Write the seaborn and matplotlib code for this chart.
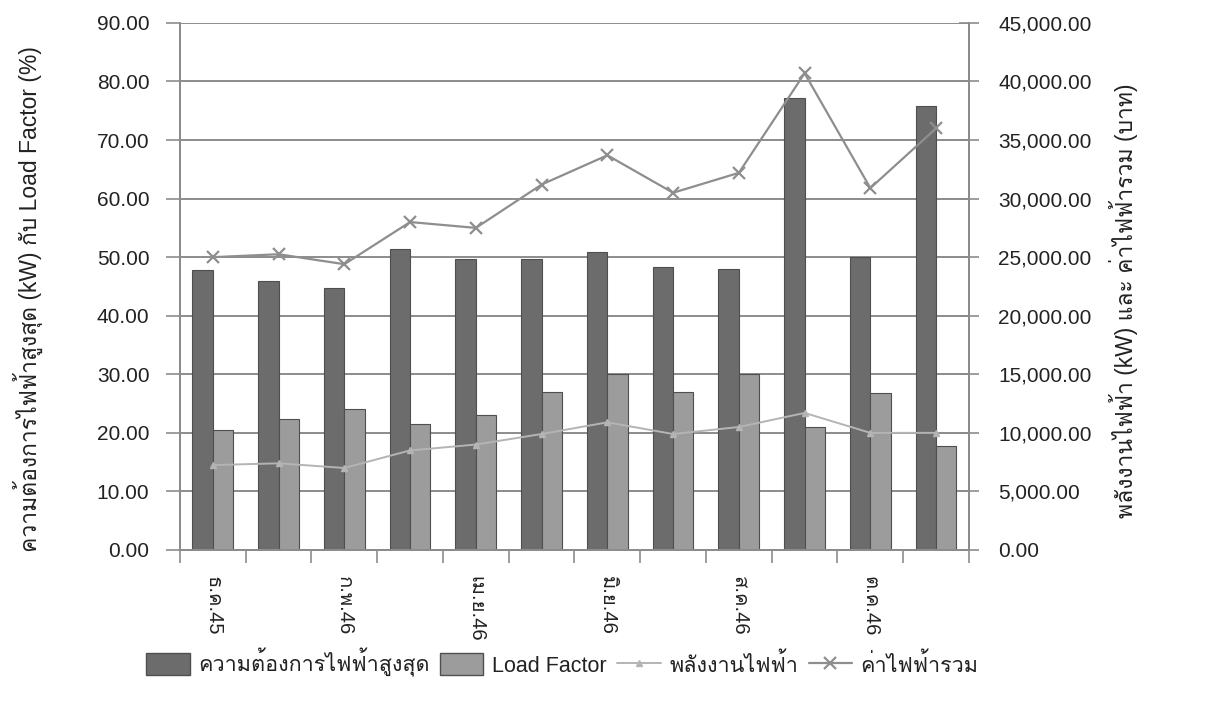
import matplotlib
matplotlib.use("Agg")
import matplotlib.pyplot as plt
import numpy as np
import pandas as pd
import seaborn as sns
from matplotlib import font_manager
from matplotlib.ft2font import FT2Font
from matplotlib.lines import Line2D
from matplotlib.patches import Patch
from matplotlib.ticker import FuncFormatter, MultipleLocator

# ---- data -------------------------------------------------------------
months = ["ธ.ค.45", "ม.ค.46", "ก.พ.46", "มี.ค.46", "เม.ย.46", "พ.ค.46",
          "มิ.ย.46", "ก.ค.46", "ส.ค.46", "ก.ย.46", "ต.ค.46", "พ.ย.46"]
peak_demand = [47.8, 46.0, 44.8, 51.4, 49.7, 49.7, 50.9, 48.4, 48.0, 77.2, 50.0, 75.9]
load_factor = [20.5, 22.4, 24.1, 21.5, 23.0, 27.0, 30.0, 27.0, 30.0, 21.0, 26.8, 17.8]
energy = [7250, 7400, 7000, 8500, 9000, 9900, 10900, 9900, 10500, 11700, 10000, 10000]
total_cost = [25000, 25250, 24400, 28000, 27500, 31200, 33700, 30500, 32200, 40700, 30900, 36000]
series_names = ["ความต้องการไฟฟ้าสูงสุด", "Load Factor", "พลังงานไฟฟ้า", "ค่าไฟฟ้ารวม"]
left_label = "ความต้องการไฟฟ้าสูงสุด (kW) กับ Load Factor (%)"
right_label = "พลังงานไฟฟ้า (kW) และ ค่าไฟฟ้ารวม (บาท)"


def thai_family():
    """First installed family that carries Thai glyphs."""
    for f in font_manager.fontManager.ttflist:
        try:
            if 0x0E01 in FT2Font(f.fname).get_charmap():
                return f.name
        except Exception:
            continue
    return "DejaVu Sans"


sns.set_theme(style="white")
families = ["Liberation Sans", thai_family(), "DejaVu Sans"]
plt.rcParams["font.family"] = families

DARK = "#6c6c6c"
LIGHT = "#9c9c9c"
GRID = "#8c8c8c"
ENERGY_C = "#b4b4b4"
COST_C = "#8e8e8e"
TEXT_C = "#222222"

bars = pd.DataFrame({
    "month": months * 2,
    "value": peak_demand + load_factor,
    "series": [series_names[0]] * len(months) + [series_names[1]] * len(months),
})

fig = plt.figure(figsize=(12.07, 7.08), dpi=100)
ax = fig.add_axes([0.1491, 0.2232, 0.6537, 0.7444])

sns.barplot(data=bars, x="month", y="value", hue="series", order=months,
            hue_order=series_names[:2], palette=[DARK, LIGHT], width=0.62,
            gap=0, edgecolor="#4f4f4f", linewidth=0.8, legend=False, ax=ax,
            zorder=3)

ax.set_ylim(0, 90)
ax.set_xlim(-0.5, len(months) - 0.5)
ax.yaxis.set_major_locator(MultipleLocator(10))
ax.yaxis.set_major_formatter(FuncFormatter(lambda v, p: f"{v:.2f}"))
ax.grid(axis="y", color=GRID, linewidth=1.4, zorder=0)
ax.set_axisbelow(True)

ax2 = ax.twinx()
sns.pointplot(x=months, y=energy, order=months, color=ENERGY_C, marker="^",
              markersize=4, linewidth=1.4, errorbar=None, ax=ax2)
sns.pointplot(x=months, y=total_cost, order=months, color=COST_C, marker="x",
              markersize=8, markeredgewidth=1.6, linewidth=1.6, errorbar=None, ax=ax2)
ax2.set_ylim(0, 45000)
ax2.set_xlim(-0.5, len(months) - 0.5)
ax2.yaxis.set_major_locator(MultipleLocator(5000))
ax2.yaxis.set_major_formatter(FuncFormatter(lambda v, p: f"{v:,.2f}"))
ax2.grid(False)

# x axis: ticks between months, every other month labelled
ax.set_xticks(np.arange(0, len(months), 2))
ax.set_xticklabels(months[::2], rotation=270, fontsize=14.5, color=TEXT_C)
ax.set_xticks(np.arange(-0.5, len(months), 1), minor=True)
ax.tick_params(axis="x", which="major", length=0, pad=19)
ax.tick_params(axis="x", which="minor", length=9, width=1.2, color=GRID,
               direction="out", bottom=True)
ax.set_xlabel("")
ax.set_ylabel("")
ax2.set_xlabel("")
ax2.set_ylabel("")

ax.tick_params(axis="y", length=10, width=1.2, color=GRID, direction="out",
               labelsize=15, labelcolor=TEXT_C, pad=12, left=True)
ax2.tick_params(axis="y", length=14, width=1.2, color=GRID, direction="inout",
                labelsize=15, labelcolor=TEXT_C, pad=14, right=True)

for a in (ax, ax2):
    a.spines["top"].set_visible(False)
    for side in ("left", "right", "bottom"):
        a.spines[side].set_color(GRID)
        a.spines[side].set_linewidth(1.4)

fig.text(0.023, 0.578, left_label, rotation=90, ha="center", va="center",
         fontsize=16.5, color=TEXT_C)
fig.text(0.931, 0.575, right_label, rotation=90, ha="center", va="center",
         fontsize=16.5, color=TEXT_C)

handles = [
    Patch(facecolor=DARK, edgecolor="#4f4f4f"),
    Patch(facecolor=LIGHT, edgecolor="#4f4f4f"),
    Line2D([], [], color=ENERGY_C, marker="^", markersize=4, linewidth=1.4),
    Line2D([], [], color=COST_C, marker="x", markersize=8, markeredgewidth=1.6, linewidth=1.6),
]
fig.legend(handles, series_names, loc="center", bbox_to_anchor=(0.466, 0.064),
           ncol=4, frameon=False, fontsize=15.5, handlelength=2.0, handleheight=1.2,
           handletextpad=0.4, columnspacing=0.5, labelcolor=TEXT_C)

fig.savefig("out.png", dpi=100, facecolor="white")
